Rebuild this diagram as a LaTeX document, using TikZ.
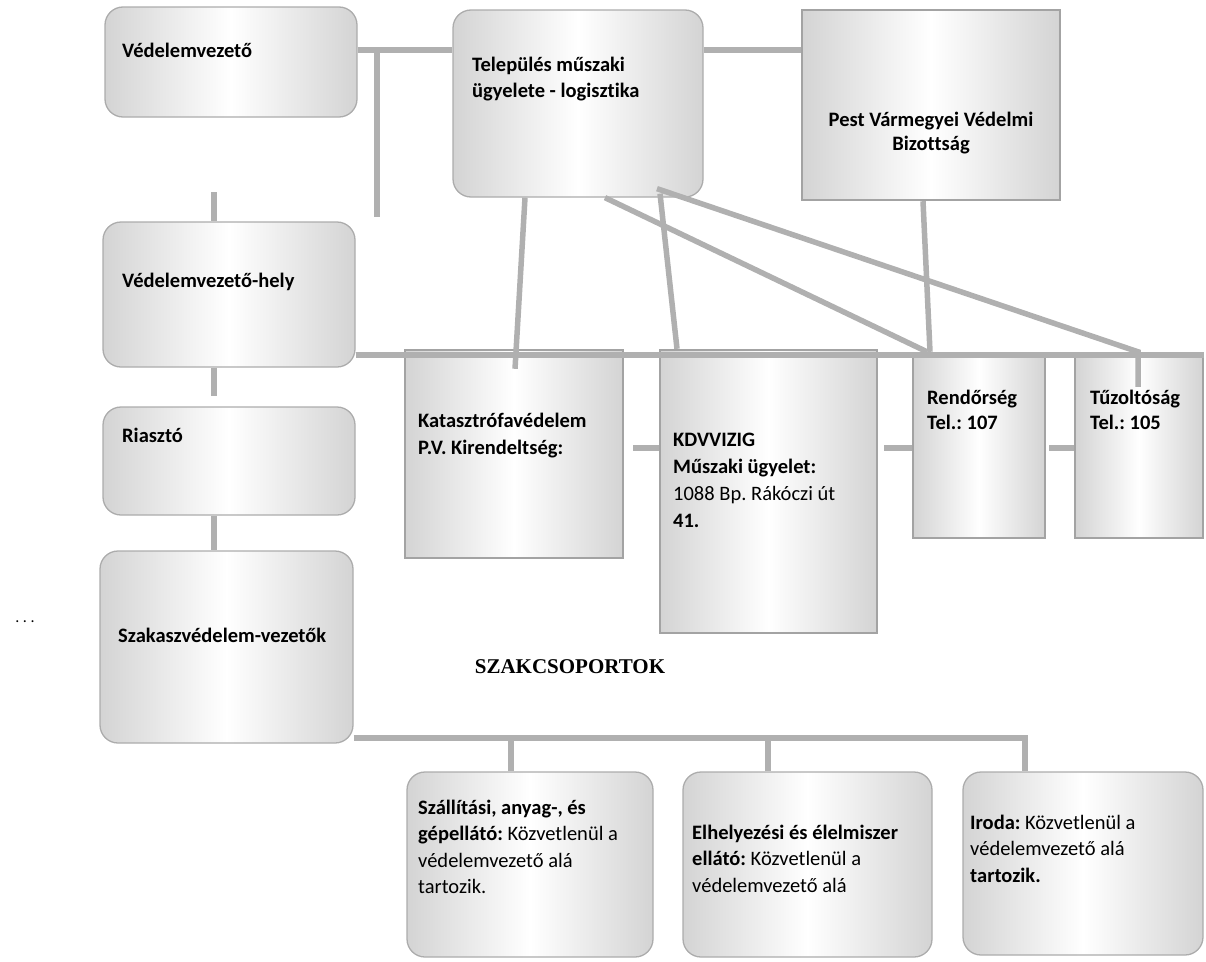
\documentclass[tikz,border=0pt]{standalone}
\usepackage{fontspec}
\setmainfont{Carlito}[Ligatures=NoCommon]
\newfontfamily\titlefont{Liberation Serif}
\usetikzlibrary{calc}
\frenchspacing
\tikzset{
  rbox/.style={draw=gray!65, line width=1.3pt, rounded corners=18pt, inner sep=0pt,
    left color=gray!34, right color=gray!34, middle color=white},
  sbox/.style={draw=gray!72, line width=2.4pt, inner sep=0pt,
    left color=gray!34, right color=gray!34, middle color=white},
  conn/.style={draw=gray!62, line width=5.5pt},
  txt/.style={anchor=north west, inner sep=0pt, align=left,
    font=\fontsize{20.5}{26.5}\selectfont\bfseries, execute at begin node=\strut},
}
\begin{document}
\begin{tikzpicture}[x=1pt,y=-1pt]
\useasboundingbox (0,0) rectangle (1206,961);
% boxes
\node[rbox, minimum width=252pt, minimum height=110pt] (v1) at (231,62) {};
\node[rbox, minimum width=250pt, minimum height=187pt] (tel) at (578,103.5) {};
\node[sbox, minimum width=258pt, minimum height=190pt] (pest) at (931,105) {};
\node[rbox, minimum width=252pt, minimum height=145pt] (hely) at (229,294.5) {};
\node[rbox, minimum width=252pt, minimum height=108pt] (ria) at (229,461) {};
\node[rbox, minimum width=253pt, minimum height=192pt] (szak) at (226.5,647) {};
\node[sbox, minimum width=218pt, minimum height=208pt] (kat) at (514,454) {};
\node[sbox, minimum width=217pt, minimum height=283pt] (kdv) at (768.5,491.5) {};
\node[sbox, minimum width=132pt, minimum height=185pt] (ren) at (979,445.5) {};
\node[sbox, minimum width=128pt, minimum height=185pt] (tuz) at (1139,445.5) {};
\node[rbox, minimum width=246pt, minimum height=185pt] (sza) at (530,864.5) {};
\node[rbox, minimum width=249pt, minimum height=185pt] (elh) at (807.5,864.5) {};
\node[rbox, minimum width=240pt, minimum height=183pt] (iro) at (1083,863.5) {};
% connectors
\coordinate (j1) at (377,50);
\coordinate (j2) at (377,217);
\coordinate (s1) at (214,192);
\draw[conn] ([yshift=12pt]v1.east) -- ([yshift=12pt]v1.east -| tel.west);
\draw[conn] (j1) -- (j2);
\draw[conn] (s1) -- (s1 |- hely.north);
\draw[conn] ([xshift=-15pt]hely.south) -- ++(0,28);
\draw[conn] ([xshift=-15pt]ria.south) -- ([xshift=-12.5pt]szak.north);
\draw[conn] ([yshift=53.5pt]tel.east) -- ([yshift=53.5pt]tel.east -| pest.west);
\draw[conn] ([xshift=-8pt]pest.south) -- ([xshift=-49pt]ren.north);
\draw[conn] ([yshift=-60.5pt]hely.east) -- ([yshift=-60.5pt]hely.east -| tuz.east);
\draw[conn] ([xshift=-53pt]tel.south) -- ([xshift=1pt,yshift=-20pt]kat.north);
\draw[conn] ([xshift=82pt,yshift=4pt]tel.south) -- ([xshift=-91.5pt]kdv.north);
\draw[conn] ([xshift=27pt]tel.south) -- ([xshift=-52pt]ren.north);
\draw[conn] ([xshift=79pt,yshift=9pt]tel.south) -- ([xshift=-1pt]tuz.north) -- ++(0,35);
\draw[conn] ([xshift=9pt,yshift=6pt]kat.east) -- ([yshift=6pt]kat.east -| kdv.west);
\draw[conn] ([yshift=-2.5pt]ren.west) -- ++(-28,0);
\draw[conn] ([xshift=3pt,yshift=-2.5pt]ren.east) -- ([yshift=-2.5pt]tuz.west);
\draw[conn] ([yshift=-91pt]szak.east) -| ([xshift=-58pt]iro.north);
\draw[conn] ([xshift=-19pt]sza.north) -- ++(0,-34);
\draw[conn] ([xshift=-39.5pt]elh.north) -- ++(0,-34);
% texts
\node[txt] (v1t) at (122,38.5) {Védelemvezető};
\node[txt] (telt) at (472,56.5) {Település műszaki\\ügyelete - logisztika};
\node[txt, anchor=north, align=center, font=\fontsize{20.5}{24}\selectfont\bfseries] (pestt) at (931,112.2) {Pest Vármegyei Védelmi\\Bizottság};
\node[txt] (helyt) at (122,268.5) {Védelemvezető-hely};
\node[txt] (riat) at (122,423.5) {Riasztó};
\node[txt] (szakt) at (118,623.5) {Szakaszvédelem-vezetők};
\node[txt, font=\fontsize{20.5}{27}\selectfont\bfseries] (katt) at (418,413.1) {Katasztrófavédelem\\P.V. Kirendeltség:};
\node[txt, font=\fontsize{20.5}{27}\selectfont\bfseries] (kdvt) at (673,433.1) {KDVVIZIG\\Műszaki ügyelet:\\\mdseries 1088 Bp. Rákóczi út\\41.};
\node[txt, font=\fontsize{20.5}{25}\selectfont\bfseries] (rent) at (927,389.5) {Rendőrség\\Tel.: 107};
\node[txt, font=\fontsize{20.5}{25}\selectfont\bfseries] (tuzt) at (1090,389.5) {Tűzoltóság\\Tel.: 105};
\node[txt] (szat) at (418,799.5) {Szállítási, anyag-, és\\gépellátó: \mdseries Közvetlenül a\\\mdseries védelemvezető alá\\\mdseries tartozik.};
\node[txt] (elht) at (692,824.5) {Elhelyezési és élelmiszer\\ellátó: \mdseries Közvetlenül a\\\mdseries védelemvezető alá};
\node[txt] (irot) at (970,814.5) {Iroda: \mdseries Közvetlenül a\\\mdseries védelemvezető alá\\tartozik.};
\node[inner sep=0pt, font=\fontsize{21}{24}\selectfont\titlefont\bfseries] (title) at (570,667) {SZAKCSOPORTOK};
\node[inner sep=0pt, font=\fontsize{16}{18}\selectfont] (dots) at (25,622) {. . .};
\end{tikzpicture}
\end{document}
